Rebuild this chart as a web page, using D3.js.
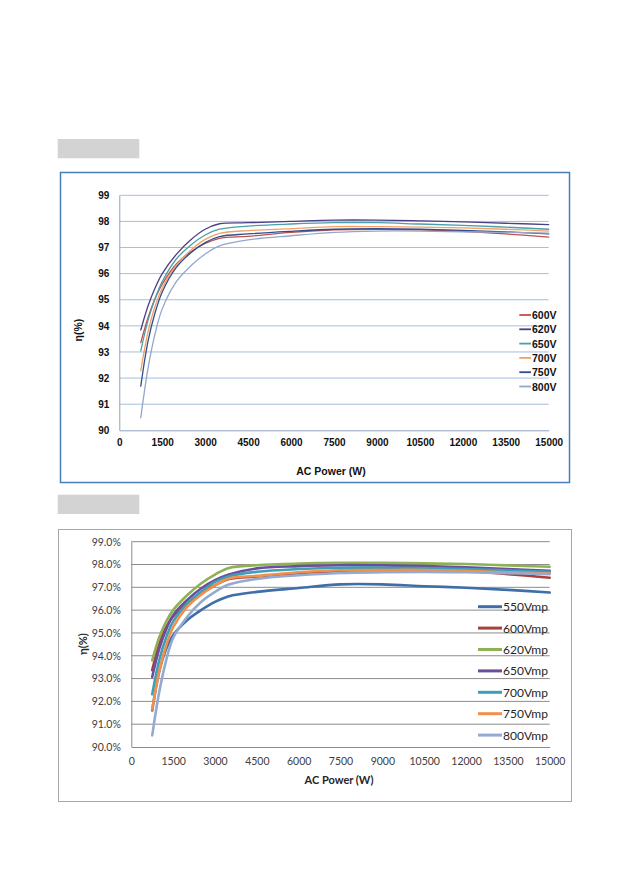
<!DOCTYPE html>
<html>
<head>
<meta charset="utf-8">
<script src="https://cdn.jsdelivr.net/npm/d3@7"></script>
<style>
  html, body { margin: 0; padding: 0; background: #fff; }
  svg { display: block; }
</style>
</head>
<body>
<svg id="page" width="630" height="892"></svg>
<script>
// ---------------- DATA ----------------
const powerW = [750, 1000, 1250, 1500, 2000, 2500, 3000, 3500, 4500, 6000, 7500, 9000, 10500, 12000, 13500, 15000];

// Chart 1 (top)
const c1Names = ["600V", "620V", "650V", "700V", "750V", "800V"];
const c1V600 = [93.36, 94.3, 95.05, 95.6, 96.38, 96.84, 97.16, 97.35, 97.43, 97.58, 97.68, 97.7, 97.68, 97.62, 97.52, 97.4];
const c1V620 = [93.84, 94.75, 95.45, 96.0, 96.75, 97.3, 97.7, 97.91, 97.95, 98.0, 98.05, 98.05, 98.02, 97.98, 97.93, 97.88];
const c1V650 = [93.04, 94.2, 95.05, 95.7, 96.57, 97.1, 97.48, 97.7, 97.82, 97.9, 97.95, 97.95, 97.9, 97.85, 97.78, 97.7];
const c1V700 = [92.28, 93.75, 94.75, 95.44, 96.33, 96.9, 97.31, 97.54, 97.65, 97.72, 97.8, 97.8, 97.78, 97.75, 97.7, 97.63];
const c1V750 = [91.69, 93.4, 94.5, 95.3, 96.25, 96.8, 97.19, 97.42, 97.52, 97.62, 97.7, 97.72, 97.7, 97.66, 97.6, 97.52];
const c1V800 = [90.48, 92.35, 93.7, 94.65, 95.7, 96.3, 96.75, 97.06, 97.29, 97.45, 97.58, 97.63, 97.63, 97.6, 97.58, 97.55];
const c1Colors = ["#c0504d", "#4b3f86", "#4a9fa8", "#f2a064", "#2f4f8f", "#93a6cc"];
const c1YTicks = [90, 91, 92, 93, 94, 95, 96, 97, 98, 99];
const xTicks = [0, 1500, 3000, 4500, 6000, 7500, 9000, 10500, 12000, 13500, 15000];

// Chart 2 (bottom)
const c2Names = ["550Vmp", "600Vmp", "620Vmp", "650Vmp", "700Vmp", "750Vmp", "800Vmp"];
const c2V550 = [91.6, 93.3, 94.3, 94.9, 95.56, 96.0, 96.36, 96.61, 96.8, 96.97, 97.13, 97.13, 97.05, 96.98, 96.89, 96.77];
const c2V600 = [93.37, 94.5, 95.25, 95.72, 96.3, 96.73, 97.09, 97.36, 97.47, 97.62, 97.72, 97.76, 97.76, 97.72, 97.58, 97.42];
const c2V620 = [93.8, 94.8, 95.5, 96.0, 96.65, 97.17, 97.56, 97.85, 97.97, 98.04, 98.07, 98.07, 98.05, 98.02, 97.96, 97.9];
const c2V650 = [93.07, 94.3, 95.15, 95.78, 96.44, 96.95, 97.31, 97.56, 97.83, 97.93, 97.97, 97.96, 97.93, 97.88, 97.8, 97.72];
const c2V700 = [92.31, 93.8, 94.8, 95.5, 96.29, 96.8, 97.24, 97.49, 97.68, 97.8, 97.86, 97.86, 97.84, 97.8, 97.74, 97.68];
const c2V750 = [91.65, 93.3, 94.45, 95.25, 96.14, 96.68, 97.09, 97.39, 97.5, 97.66, 97.75, 97.76, 97.76, 97.72, 97.66, 97.6];
const c2V800 = [90.51, 92.4, 93.8, 94.78, 95.7, 96.36, 96.8, 97.12, 97.37, 97.53, 97.63, 97.66, 97.67, 97.66, 97.62, 97.58];
const c2Colors = ["#3f6ea8", "#a8403c", "#8fb155", "#6c4f9c", "#3d9fb8", "#f0904a", "#93aad2"];
const c2YTicks = [90, 91, 92, 93, 94, 95, 96, 97, 98, 99];

const xLabel = "AC Power (W)";
const yLabel = "η(%)";

// ---------------- DRAW ----------------
const svg = d3.select("#page");

// gray header boxes
svg.append("rect").attr("x", 57.7).attr("y", 139).attr("width", 81.6).attr("height", 19.3).attr("fill", "#d3d3d3");
svg.append("rect").attr("x", 57.7).attr("y", 494.7).attr("width", 81.6).attr("height", 19.3).attr("fill", "#d3d3d3");

function drawChart(cfg) {
  const g = svg.append("g");
  g.append("rect")
    .attr("x", cfg.frame[0]).attr("y", cfg.frame[1])
    .attr("width", cfg.frame[2]).attr("height", cfg.frame[3])
    .attr("fill", "#fff").attr("stroke", cfg.frameColor).attr("stroke-width", cfg.frameWidth);

  const x = d3.scaleLinear().domain([0, 15000]).range(cfg.xRange);
  const y = d3.scaleLinear().domain([90, 99]).range(cfg.yRange);

  // gridlines
  g.append("g").selectAll("line").data(cfg.yTicks.filter(d => d > 90)).join("line")
    .attr("x1", x(0)).attr("x2", x(15000))
    .attr("y1", d => y(d)).attr("y2", d => y(d))
    .attr("stroke", cfg.gridColor).attr("stroke-width", 1);

  // axes
  const xa = g.append("g").attr("transform", `translate(0,${y(90)})`)
    .call(d3.axisBottom(x).tickValues(xTicks).tickFormat(d3.format("d")).tickSize(0).tickPadding(cfg.xPad));
  xa.select(".domain").attr("stroke", cfg.axisColor);
  xa.selectAll("text").attr("font-family", cfg.font).attr("font-size", cfg.tickSize)
    .attr("font-weight", cfg.tickWeight).attr("fill", cfg.tickColor);

  const ya = g.append("g").attr("transform", `translate(${x(0)},0)`)
    .call(d3.axisLeft(y).tickValues(cfg.yTicks).tickFormat(cfg.yFmt).tickSize(0).tickPadding(cfg.yPad));
  ya.select(".domain").attr("stroke", cfg.axisColor);
  ya.selectAll("text").attr("font-family", cfg.font).attr("font-size", cfg.tickSize)
    .attr("font-weight", cfg.tickWeight).attr("fill", cfg.tickColor);

  // lines
  const line = d3.line().x((d, i) => x(powerW[i])).y(d => y(d)).curve(d3.curveCatmullRom.alpha(0.5));
  cfg.series.forEach((s, k) => {
    g.append("path").attr("d", line(s)).attr("fill", "none")
      .attr("stroke", cfg.colors[k]).attr("stroke-width", cfg.lineWidth)
      .attr("stroke-linejoin", "round").attr("stroke-linecap", "round");
  });

  // axis titles
  g.append("text").attr("x", cfg.xTitle[0]).attr("y", cfg.xTitle[1]).attr("text-anchor", "middle")
    .attr("font-family", cfg.titleFont).attr("font-weight", "bold").attr("font-size", cfg.titleSize)
    .attr("fill", cfg.titleColor).text(xLabel);
  g.append("text").attr("transform", `translate(${cfg.yTitle[0]},${cfg.yTitle[1]}) rotate(-90)`)
    .attr("text-anchor", "middle").attr("dominant-baseline", "central")
    .attr("font-family", cfg.titleFont).attr("font-weight", "bold").attr("font-size", cfg.titleSize)
    .attr("fill", cfg.titleColor).text(yLabel);

  // legend
  const lg = g.append("g");
  cfg.names.forEach((n, k) => {
    const yy = cfg.legY0 + k * cfg.legStep;
    lg.append("line").attr("x1", cfg.legX[0]).attr("x2", cfg.legX[1]).attr("y1", yy).attr("y2", yy)
      .attr("stroke", cfg.colors[k]).attr("stroke-width", cfg.legLineWidth);
    lg.append("text").attr("x", cfg.legX[1] + 1).attr("y", yy).attr("dominant-baseline", "central")
      .attr("font-family", cfg.legFont).attr("font-size", cfg.legSize).attr("font-weight", cfg.legWeight)
      .attr("fill", cfg.legColor).text(n);
  });
}

drawChart({
  frame: [60.5, 172.5, 509, 310], frameColor: "#4a7ebb", frameWidth: 1.5,
  xRange: [119.3, 548.7], yRange: [430.3, 195.3],
  yTicks: c1YTicks, yFmt: d3.format("d"),
  gridColor: "#a7bedb", axisColor: "#8ea3bd",
  font: "Liberation Sans, Arial, sans-serif", tickSize: 10, tickWeight: "bold", tickColor: "#111",
  xPad: 9, yPad: 10,
  series: [c1V600, c1V620, c1V650, c1V700, c1V750, c1V800], colors: c1Colors, lineWidth: 1.3,
  xTitle: [331, 474.5], yTitle: [78, 330], titleFont: "Liberation Sans, Arial, sans-serif", titleSize: 10.5, titleColor: "#111",
  names: c1Names, legX: [519.3, 531], legY0: 315, legStep: 14.3, legLineWidth: 1.8,
  legFont: "Liberation Sans, Arial, sans-serif", legSize: 10.5, legWeight: "bold", legColor: "#111"
});

drawChart({
  frame: [58.5, 529.5, 513, 272], frameColor: "#a6a6a6", frameWidth: 1,
  xRange: [131.3, 549.7], yRange: [747, 541.7],
  yTicks: c2YTicks, yFmt: d => d3.format(".1f")(d) + "%",
  gridColor: "#8c8c8c", axisColor: "#8c8c8c",
  font: "Lato, 'Open Sans', sans-serif", tickSize: 10.5, tickWeight: "normal", tickColor: "#404040",
  xPad: 11, yPad: 10.5,
  series: [c2V550, c2V600, c2V620, c2V650, c2V700, c2V750, c2V800], colors: c2Colors, lineWidth: 2.6,
  xTitle: [339, 783.5], yTitle: [82, 644], titleFont: "Lato, 'Open Sans', sans-serif", titleSize: 11, titleColor: "#262626",
  names: c2Names, legX: [478, 502], legY0: 606.7, legStep: 21.4, legLineWidth: 3,
  legFont: "Lato, 'Open Sans', sans-serif", legSize: 12, legWeight: "normal", legColor: "#262626"
});
</script>
</body>
</html>
